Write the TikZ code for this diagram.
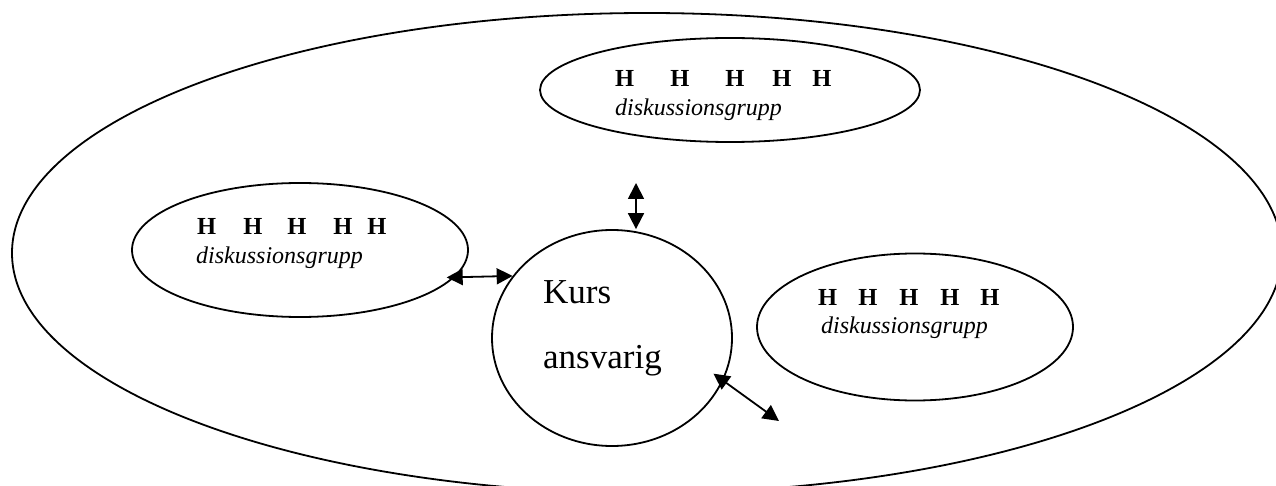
\documentclass[tikz,border=0pt]{standalone}
\usepackage{fontspec}
\setmainfont{Liberation Serif}
\usetikzlibrary{shapes,arrows.meta,positioning}

\begin{document}
\begin{tikzpicture}
      [x=1pt, y=-1pt,
      ring style/.style={draw, ellipse, line width=1.8pt, inner sep=0pt},
      members style/.style={anchor=base west, inner sep=0pt, font=\fontsize{24.5}{28}\selectfont\bfseries},
      group style/.style={anchor=base west, inner sep=0pt, font=\fontsize{24}{28}\selectfont\itshape},
      leader style/.style={anchor=base west, inner sep=0pt, font=\fontsize{35}{42}\selectfont},
      link/.style={line width=1.8pt, {Triangle[length=16pt,width=16pt]}-{Triangle[length=16pt,width=16pt]}},
      ]
    \useasboundingbox (0,0) rectangle (1276,486);

    % outer ring and the three groups
    \node[ring style, minimum width=1270pt, minimum height=480pt] (course) at (647,253) {};
    \node[ring style, minimum width=380pt, minimum height=104pt] (top group) at (730,90) {};
    \node[ring style, minimum width=336pt, minimum height=134pt] (left group) at (300,250) {};
    \node[ring style, minimum width=316pt, minimum height=147pt] (right group) at (915,327) {};
    \node[ring style, minimum width=240pt, minimum height=216pt] (leader) at (612,338) {};

    % texts
    \node[members style] (top members) at (615,87) {H\hspace{36pt}H\hspace{36pt}H\hspace{28pt}H\hspace{21pt}H};
    \node[group style] (top name) at (615,116) {diskussionsgrupp};
    \node[members style] (left members) at (197,235) {H\hspace{27pt}H\hspace{25pt}H\hspace{27pt}H\hspace{15pt}H};
    \node[group style] (left name) at (196,264) {diskussionsgrupp};
    \node[members style] (right members) at (818,305) {H\hspace{21pt}H\hspace{22pt}H\hspace{22pt}H\hspace{21pt}H};
    \node[group style] (right name) at (821,333) {diskussionsgrupp};
    \node[leader style] (leader top) at (543,303) {Kurs};
    \node[leader style] (leader bottom) at (543,368) {ansvarig};

    % arrows
    \coordinate (up end) at (636,183);
    \coordinate (down end) at (779,421);
    \draw[link, shorten <=-8pt] (left group.-10) -- (leader.148);
    \draw[link] (up end) -- (up end |- leader.north);
    \draw[link, shorten <=-12pt] (leader.-21) -- (down end);
\end{tikzpicture}
\end{document}
